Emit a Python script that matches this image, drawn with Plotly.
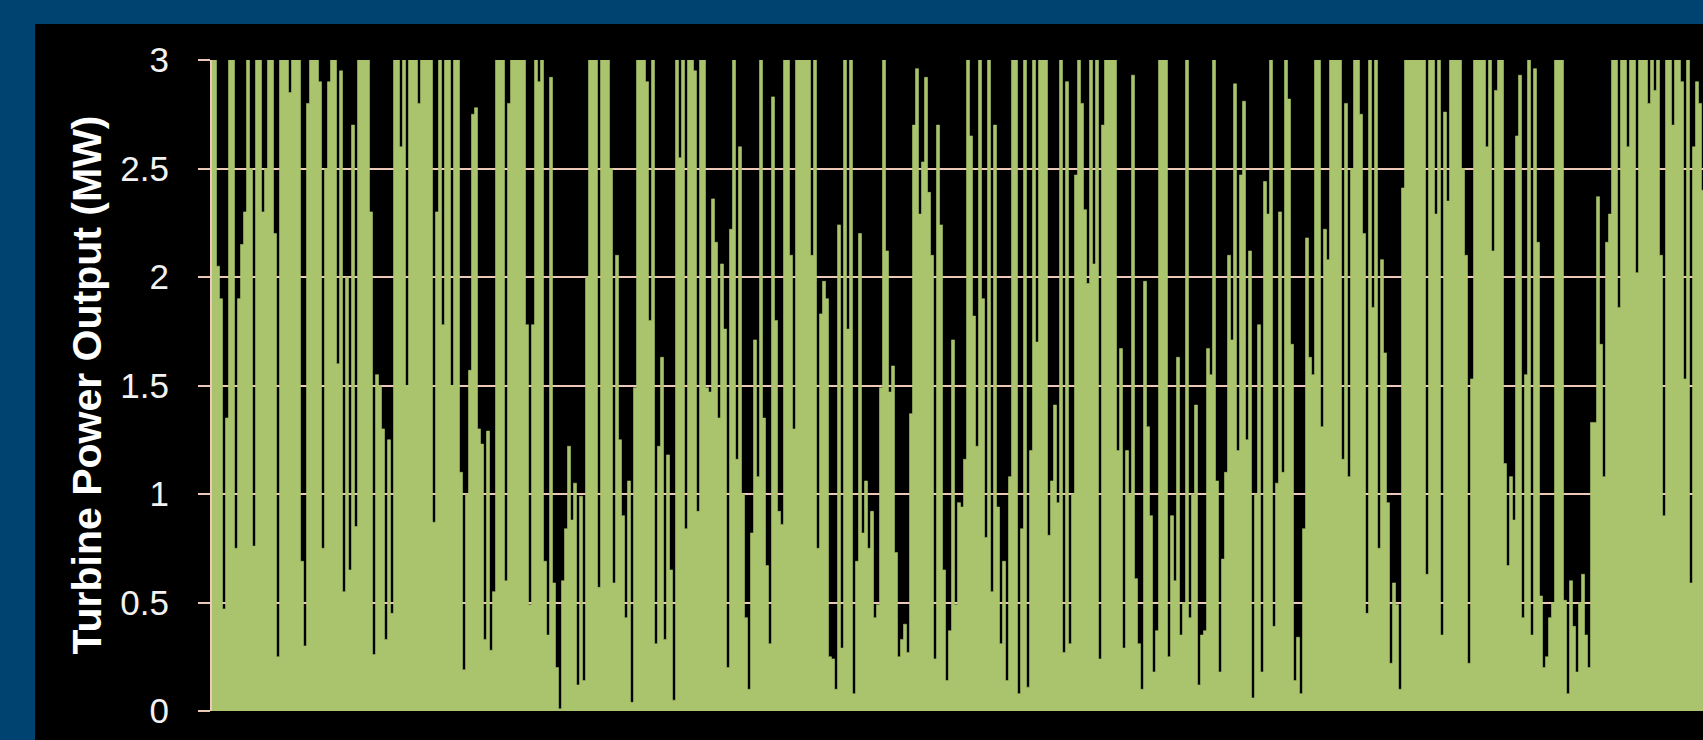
import plotly.graph_objects as go

# Turbine power output (MW), read left to right across the chart
seg1 = [3.0, 3.0, 2.05, 1.9, 0.47, 1.35, 3.0, 3.0, 0.75, 1.9, 2.15, 2.3, 3.0, 2.5, 0.76, 3.0, 3.0,
        2.3, 2.5, 3.0, 3.0, 2.2, 0.25, 3.0, 3.0, 3.0, 2.85, 3.0, 3.0, 3.0, 0.69, 0.3, 2.8, 3.0,
        3.0, 3.0, 2.9, 0.75, 2.5, 2.9, 3.0, 3.0, 1.6, 2.95, 0.55, 2.0, 0.65, 2.7, 0.85, 3.0, 3.0,
        3.0, 3.0, 2.3, 0.26, 1.55, 1.5, 1.3, 0.33, 1.25, 0.45, 3.0, 3.0, 2.6, 3.0, 1.5, 3.0, 3.0,
        3.0, 2.8, 3.0, 3.0, 3.0, 3.0, 0.87, 2.3, 3.0, 1.78, 3.0, 3.0, 1.5, 3.0, 3.0]
seg2 = [1.1, 0.19, 1.0, 1.57, 2.75, 2.78, 1.3, 1.23, 0.33, 1.29, 0.28, 0.55, 3.0, 3.0, 3.0, 0.6,
        2.8, 3.0, 3.0, 3.0, 3.0, 3.0, 1.78, 0.49, 1.78, 3.0, 2.9, 3.0, 0.69, 0.35, 2.92, 0.59, 0.2,
        0.01, 0.6, 0.84, 1.22, 0.88, 1.05, 0.12, 0.99, 0.14, 2.0, 3.0, 3.0, 3.0, 0.57, 3.0, 3.0,
        3.0, 2.5, 0.59, 2.1, 1.25, 0.9, 0.43, 1.06, 0.04, 1.49, 3.0, 3.0, 3.0, 2.9, 1.8, 3.0, 0.31,
        1.22, 1.63, 0.33, 1.18, 0.65, 0.05, 3.0, 2.55, 3.0, 0.84, 3.0, 3.0, 2.95, 0.92, 3.0, 3.0,
        1.49]
seg3 = [1.47, 2.36, 2.16, 1.35, 2.06, 1.76, 0.2, 2.22, 3.0, 1.16, 2.6, 1.0, 0.43, 0.1, 0.82, 1.71,
        1.08, 3.0, 1.35, 0.67, 0.31, 2.83, 1.8, 0.92, 0.86, 3.0, 3.0, 2.1, 1.3, 3.0, 3.0, 3.0, 3.0,
        3.0, 2.1, 3.0, 0.75, 1.83, 1.98, 1.9, 0.25, 0.24, 0.1, 2.24, 0.29, 3.0, 1.76, 3.0, 0.08,
        0.69, 2.2, 0.82, 1.06, 0.75, 0.92, 0.43, 0.49, 1.49, 3.0, 2.12, 1.47, 1.59, 0.73, 0.25,
        0.33, 0.4, 0.27, 1.37, 2.7, 2.96, 2.29, 2.53, 2.92, 2.39, 2.1, 0.24, 2.7, 2.24, 0.65, 0.14,
        0.37, 1.71, 0.49, 0.96]
seg4 = [0.94, 1.16, 3.0, 2.65, 1.82, 1.22, 3.0, 1.9, 0.8, 3.0, 0.55, 2.7, 0.94, 0.31, 0.69, 0.14,
        1.08, 3.0, 3.0, 0.08, 0.84, 3.0, 0.11, 1.2, 3.0, 1.7, 3.0, 3.0, 3.0, 0.81, 1.06, 1.41, 0.96,
        3.0, 0.27, 2.9, 0.31, 1.0, 2.47, 3.0, 2.8, 2.31, 1.97, 3.0, 2.06, 3.0, 0.24, 2.7, 3.0, 3.0,
        3.0, 3.0, 1.2, 1.67, 0.29, 1.2, 1.0, 2.93, 0.61, 0.31, 0.1, 1.98, 1.31, 0.9, 0.18, 0.37,
        3.0, 3.0, 3.0, 0.25, 0.9, 0.6, 1.63, 0.35, 0.5, 3.0, 0.43, 1.0, 1.41, 0.12, 0.35, 0.37, 1.67]
seg5 = [1.55, 3.0, 1.06, 0.18, 0.7, 1.1, 2.1, 1.71, 2.89, 1.2, 2.47, 2.81, 1.25, 2.12, 0.06, 1.0,
        1.78, 0.18, 2.44, 2.29, 3.0, 0.39, 1.05, 2.3, 1.1, 3.0, 2.82, 1.69, 0.14, 0.34, 0.08, 0.84,
        2.18, 1.63, 1.55, 3.0, 3.0, 1.31, 2.22, 2.08, 3.0, 3.0, 3.0, 3.0, 1.16, 2.8, 1.08, 2.5, 3.0,
        3.0, 2.75, 2.2, 0.45, 3.0, 1.86, 3.0, 0.75, 2.08, 1.65, 0.96, 0.22, 0.59, 0.49, 0.1, 2.41,
        3.0, 3.0, 3.0, 3.0, 3.0, 3.0, 3.0, 0.63, 3.0, 3.0, 2.29, 3.0, 0.35, 2.76, 2.35, 3.0, 3.0,
        3.0]
seg6 = [3.0, 2.5, 2.1, 0.22, 1.53, 3.0, 3.0, 3.0, 3.0, 2.6, 3.0, 2.12, 2.86, 3.0, 3.0, 1.14, 0.67,
        1.08, 0.88, 2.65, 2.93, 0.43, 1.55, 3.0, 0.35, 2.96, 2.16, 0.53, 0.2, 0.25, 0.43, 0.5, 3.0,
        3.0, 3.0, 0.51, 0.08, 0.6, 0.39, 0.18, 0.5, 0.63, 0.35, 0.2, 1.33, 1.33, 2.37, 1.69, 1.08,
        2.16, 2.29, 3.0, 3.0, 1.86, 3.0, 3.0, 2.6, 3.0, 3.0, 2.02, 3.0, 3.0, 3.0, 2.8, 3.0, 2.86,
        3.0, 2.1, 0.9, 3.0, 3.0, 2.7, 3.0, 3.0, 2.9, 1.53, 3.0, 0.59, 2.6, 2.9, 2.8, 2.4]

power_mw = seg1 + seg2 + seg3 + seg4 + seg5 + seg6
period = list(range(len(power_mw)))

y_ticks = [0, 0.5, 1, 1.5, 2, 2.5, 3]
y_tick_text = ["0", "0.5", "1", "1.5", "2", "2.5", "3"]
y_title = "Turbine Power Output (MW)"

GREEN = "#a9c46c"
BLUE = "#004371"
GRID = "#ecc9b7"

W, H = 1703, 740
ML, MR, MT, MB = 212, 0, 60, 29
pw = W - ML - MR
ph = H - MT - MB

fig = go.Figure()
fig.add_trace(go.Scatter(
    x=period, y=power_mw, mode="lines", fill="tozeroy",
    line=dict(color=GREEN, width=0.6, shape="hvh"),
    fillcolor=GREEN, hoverinfo="skip", showlegend=False,
))

# black panel inside blue frame
fig.add_shape(type="rect", xref="paper", yref="paper", layer="below",
              x0=(35 - ML) / pw, x1=1.0, y0=-(H - MT - ph) / ph - 0.01,
              y1=(H - MB - 24) / ph, fillcolor="black", line_width=0)

fig.add_annotation(text="<b>" + y_title + "</b>", xref="paper", yref="paper",
                   x=(86 - ML) / pw, y=0.5, textangle=-90, showarrow=False,
                   xanchor="center", yanchor="middle",
                   font=dict(family="Liberation Sans, Arial", size=41, color="white"))

fig.update_layout(
    width=W, height=H, margin=dict(l=ML, r=MR, t=MT, b=MB),
    paper_bgcolor=BLUE, plot_bgcolor="black",
    xaxis=dict(range=[0, len(power_mw) - 1], showgrid=False, showticklabels=False,
               zeroline=False, ticks="", showline=False),
    yaxis=dict(range=[0, 3], tickvals=y_ticks, ticktext=y_tick_text,
               showgrid=True, gridcolor=GRID, gridwidth=2, zeroline=False,
               showline=True, linecolor=GRID, linewidth=2,
               ticks="outside", ticklen=12, tickwidth=2, tickcolor=GRID,
               ticklabelstandoff=22,
               tickfont=dict(family="Liberation Sans, Arial", size=35, color="#f2f2f2")),
)

fig.write_html("out.html", config={"displayModeBar": False},
               post_script="document.body.style.margin='0';document.body.style.background='#004371';")
